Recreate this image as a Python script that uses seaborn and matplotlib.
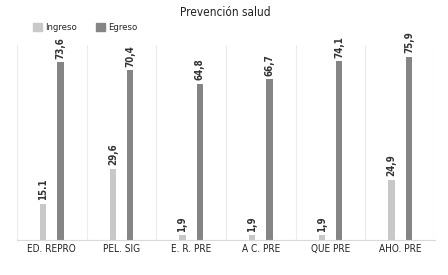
import numpy as np
import pandas as pd
import matplotlib
matplotlib.use('Agg')
import matplotlib.pyplot as plt
import seaborn as sns
from matplotlib.patches import Patch

categorias = ['ED. REPRO', 'PEL. SIG', 'E. R. PRE', 'A C. PRE', 'QUE PRE', 'AHO. PRE']
ingreso = [15.1, 29.6, 1.9, 1.9, 1.9, 24.9]
egreso = [73.6, 70.4, 64.8, 66.7, 74.1, 75.9]
etiq_ingreso = ['15.1', '29,6', '1,9', '1,9', '1,9', '24,9']
etiq_egreso = ['73,6', '70,4', '64,8', '66,7', '74,1', '75,9']

df = pd.DataFrame({'cat': categorias * 2,
                   'serie': ['Ingreso'] * 6 + ['Egreso'] * 6,
                   'valor': ingreso + egreso})

sns.set_style('white')
plt.rcParams['font.family'] = ['DejaVu Sans']
plt.rcParams['font.stretch'] = 'condensed'

colores = {'Ingreso': '#c8c8c8', 'Egreso': '#858585'}

fig = plt.figure(figsize=(4.48, 2.75), dpi=100)
ax = fig.add_axes([0.038, 0.127, 0.933, 0.709])
sns.barplot(data=df, x='cat', y='valor', hue='serie', palette=colores,
            width=0.5, ax=ax, legend=False)

# barras más finas (centradas en su posición)
ancho = 0.093
for p in ax.patches:
    c = p.get_x() + p.get_width() / 2
    p.set_width(ancho)
    p.set_x(c - ancho / 2)
    p.set_linewidth(0)

# etiquetas sobre las barras
for i in range(len(categorias)):
    ax.text(i - 0.125, ingreso[i] + 1.5, etiq_ingreso[i], rotation=90,
            ha='center', va='bottom', fontsize=7, color='#333333', fontweight='bold')
    ax.text(i + 0.125, egreso[i] + 1.5, etiq_egreso[i], rotation=90,
            ha='center', va='bottom', fontsize=7, color='#333333', fontweight='bold')

# separadores verticales
for x in np.arange(-0.5, len(categorias), 1.0):
    ax.axvline(x, color='#ececec', lw=0.8, zorder=0)

ax.set_xlim(-0.5, len(categorias) - 0.5)
ax.set_ylim(0, 80.8)
ax.set_yticks([])
ax.set_xlabel('')
ax.set_ylabel('')
ax.tick_params(axis='x', length=0, labelsize=7.2, pad=3, colors='#222222')
for s in ['top', 'left', 'right']:
    ax.spines[s].set_visible(False)
ax.spines['bottom'].set_color('#d9d9d9')

fig.text(0.502, 0.955, 'Prevención salud', ha='center', va='center',
         fontsize=8.5, color='#222222')

handles = [Patch(color=colores['Ingreso']), Patch(color=colores['Egreso'])]
fig.legend(handles, ['Ingreso', 'Egreso'], loc='center left',
           bbox_to_anchor=(0.055, 0.9), ncol=2, frameon=False, fontsize=6.8,
           handlelength=0.9, handleheight=0.9, handletextpad=0.4, columnspacing=2.0)

fig.savefig('out.png', dpi=100)
